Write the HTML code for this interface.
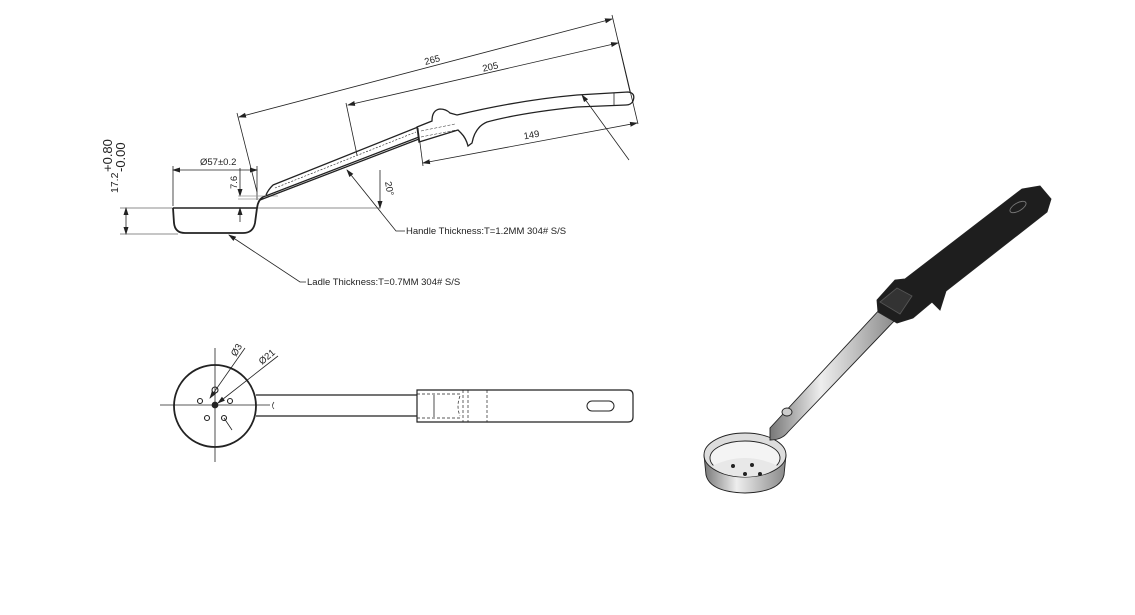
<!DOCTYPE html>
<html><head><meta charset="utf-8"><style>
html,body{margin:0;padding:0;background:#fff;}
svg{display:block;}
text{font-family:"Liberation Sans",sans-serif;fill:#222;}
</style></head><body>
<svg width="1135" height="615" viewBox="0 0 1135 615" xmlns="http://www.w3.org/2000/svg">
<defs>
<marker id="a" markerWidth="8" markerHeight="6" refX="7" refY="3" orient="auto-start-reverse" markerUnits="userSpaceOnUse"><path d="M0,0.5 L8,3 L0,5.5z" fill="#222"/></marker>
<linearGradient id="steel" x1="0" y1="0" x2="1" y2="0"><stop offset="0" stop-color="#777"/><stop offset="0.4" stop-color="#eee"/><stop offset="1" stop-color="#888"/></linearGradient>
</defs>
<g stroke="#222" stroke-width="0.8" fill="none">
<line x1="239" y1="117" x2="612" y2="19" marker-start="url(#a)" marker-end="url(#a)"/>
<line x1="612" y1="15" x2="630" y2="92"/>
<line x1="237" y1="113" x2="257" y2="192"/>
<line x1="348" y1="105" x2="618" y2="43" marker-start="url(#a)" marker-end="url(#a)"/>
<line x1="618" y1="40" x2="638" y2="124"/>
<line x1="346" y1="103" x2="357" y2="155"/>
<line x1="423" y1="163" x2="637" y2="123" marker-start="url(#a)" marker-end="url(#a)"/>
<line x1="418" y1="128" x2="423" y2="166"/>
<line x1="582" y1="95" x2="629" y2="160" marker-start="url(#a)"/>
<line x1="120" y1="208" x2="380" y2="208" stroke="#666"/>
<line x1="120" y1="234" x2="178" y2="234" stroke="#666"/>
<line x1="126" y1="208" x2="126" y2="234" marker-start="url(#a)" marker-end="url(#a)"/>
<line x1="173" y1="170" x2="257" y2="170" marker-start="url(#a)" marker-end="url(#a)"/>
<line x1="173" y1="166" x2="173" y2="206"/>
<line x1="257" y1="166" x2="257" y2="200"/>
<line x1="240" y1="168" x2="240" y2="196" marker-end="url(#a)"/>
<line x1="240" y1="222" x2="240" y2="208" marker-end="url(#a)"/>
<line x1="238" y1="196" x2="278" y2="196" stroke="#999"/>
<line x1="238" y1="199" x2="262" y2="199" stroke="#999"/>
<path d="M173,208 L174,223 Q175,233 185,233 L243,233 Q253,233 255,223 L257,208 Q258,200 263,197" stroke-width="1.8"/>
<line x1="173" y1="208" x2="257" y2="208" stroke-width="1.5"/>
<path d="M263,197 L419,137 M260,200 L419,139 M273,185 Q268,190 266,195 M273,185 L418,127" stroke-width="1.3"/>
<line x1="275" y1="188" x2="416" y2="132" stroke-dasharray="2,1.5" stroke-width="0.6"/>
<path d="M417,127 L432,121 Q432,110 440,109 Q446,109 450,113 L457,115 Q520,100 577,95 L628,92 Q636,93 633,101 Q631,105 626,105 L577,107 Q520,113 487,122 Q475,127 472,143 L468,146 Q466,138 461,133 L458,130 L419,142 Z" stroke-width="1.3"/>
<line x1="614" y1="93" x2="614" y2="105"/>
<path d="M421,131 L455,124 M421,137 L456,130" stroke-dasharray="3,1.5" stroke-width="0.5"/>
<line x1="380" y1="208" x2="380" y2="170" marker-start="url(#a)"/>
<path d="M347,170 L396,231 L405,231" marker-start="url(#a)"/>
<path d="M229,235 L300,282 L306,282" marker-start="url(#a)"/>
<line x1="160" y1="405" x2="270" y2="405"/>
<line x1="215" y1="348" x2="215" y2="462"/>
<circle cx="215" cy="406" r="41" stroke-width="1.8"/>
<path d="M256,395 L417,395 M256,416 L417,416" stroke-width="1.2"/>
<path d="M417,390 L628,390 Q633,390 633,395 L633,417 Q633,422 628,422 L417,422 Z" stroke-width="1.2"/>
<line x1="434" y1="395" x2="434" y2="417"/>
<path d="M417,394 L460,394 M417,418 L460,418 M463,390 L463,422 M468,390 L468,422 M487,390 L487,422 M460,396 Q456,406 460,416" stroke-dasharray="3,2" stroke-width="0.7"/>
<rect x="587" y="401" width="27" height="10" rx="5" stroke-width="1"/>
<path d="M274,402 Q271,406 274,409" stroke-width="0.7"/>
<g stroke-width="1.1">
<circle cx="215" cy="390" r="3"/><circle cx="200" cy="401" r="2.5"/><circle cx="230" cy="401" r="2.5"/><circle cx="207" cy="418" r="2.5"/><circle cx="224" cy="418" r="2.5"/>
</g>
<circle cx="215" cy="405" r="3" fill="#222"/>
<line x1="210" y1="398" x2="245" y2="348" marker-start="url(#a)"/>
<line x1="218" y1="403" x2="278" y2="356" marker-start="url(#a)"/>
<line x1="224" y1="418" x2="232" y2="430"/>
</g>
<g font-size="9.5">
<text transform="translate(433,63) rotate(-15)" text-anchor="middle">265</text>
<text transform="translate(491,70) rotate(-13)" text-anchor="middle">205</text>
<text transform="translate(532,138) rotate(-10)" text-anchor="middle">149</text>
<text x="200" y="165">Ø57±0.2</text>
<text transform="translate(237,189) rotate(-90)">7.6</text>
<text transform="translate(385,182) rotate(80)">20°</text>
<text x="406" y="234">Handle Thickness:T=1.2MM 304# S/S</text>
<text x="307" y="285">Ladle Thickness:T=0.7MM 304# S/S</text>
<text transform="translate(236,357) rotate(-60)">Ø3</text>
<text transform="translate(262,365) rotate(-40)">Ø21</text>
</g>
<text transform="translate(118,193) rotate(-90)" font-size="10.5">17.2</text>
<text transform="translate(112,172) rotate(-90)" font-size="13">+0.80</text>
<text transform="translate(125,172) rotate(-90)" font-size="13">-0.00</text>
<g stroke="#222" stroke-width="0.9">
<path d="M704,455 L706,475 Q710,492 745,493 Q780,492 784,475 L786,455 Z" fill="url(#steel)"/>
<ellipse cx="745" cy="455" rx="41" ry="22" fill="#ddd"/>
<ellipse cx="745" cy="458" rx="35" ry="17" fill="#f4f4f4"/>
<path d="M712,466 Q745,450 778,466 Q770,476 745,477 Q720,476 712,466Z" fill="#e8e8e8" stroke="none"/>
<path d="M770,440 L770,428 L882,307 L897,318 L788,432 Q782,440 770,440Z" fill="url(#steel)"/>
<ellipse cx="787" cy="412" rx="5" ry="4" fill="#ccc"/>
<path d="M877,300 L895,280 L905,279 L1022,189 L1040,186 L1051,199 L1047,212 L946,291 L940,310 L932,302 L913,318 L897,323 L878,312Z" fill="#1e1e1e"/>
<path d="M880,302 L897,288 L912,296 L900,314Z" fill="#333" stroke="#555"/>
<ellipse cx="1018" cy="207" rx="9" ry="4" transform="rotate(-30 1018 207)" fill="none" stroke="#777"/>
</g>
<g fill="#222"><circle cx="733" cy="466" r="2"/><circle cx="752" cy="465" r="2"/><circle cx="745" cy="474" r="2"/><circle cx="760" cy="474" r="2"/></g>
</svg>
</body></html>
